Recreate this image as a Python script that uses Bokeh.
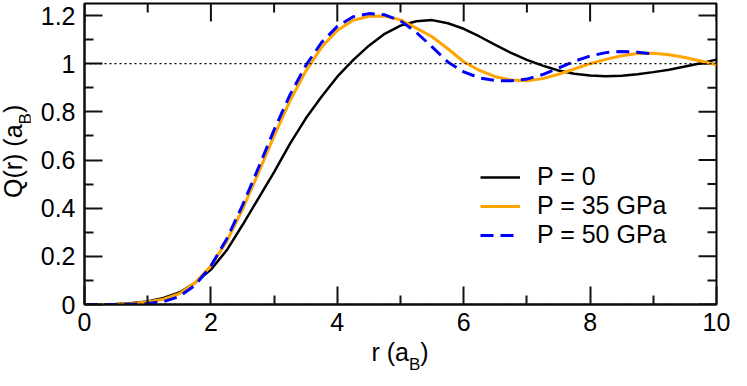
from bokeh.plotting import figure
from bokeh.layouts import row, column
from bokeh.models import Range1d, FixedTicker, Legend, LegendItem, Span, Div
from bokeh.embed import file_html
from bokeh.resources import INLINE

# ---------------- data ----------------
r = [0, 0.25, 0.5, 0.75, 1.0, 1.25, 1.5, 1.75, 2.0, 2.25, 2.5, 2.75, 3.0, 3.25,
     3.5, 3.75, 4.0, 4.25, 4.5, 4.75, 5.0, 5.25, 5.5, 5.75, 6.0, 6.25, 6.5, 6.75,
     7.0, 7.25, 7.5, 7.75, 8.0, 8.25, 8.5, 8.75, 9.0, 9.25, 9.5, 9.75, 10.0]

q_p0 = [0.0, 0.0, 0.002, 0.006, 0.013, 0.027, 0.05, 0.09, 0.145, 0.225, 0.33,
        0.44, 0.55, 0.667, 0.772, 0.863, 0.946, 1.015, 1.075, 1.124, 1.158,
        1.176, 1.181, 1.168, 1.145, 1.113, 1.078, 1.045, 1.016, 0.992, 0.972,
        0.958, 0.951, 0.948, 0.95, 0.956, 0.965, 0.975, 0.988, 1.002, 1.017]

q_p35 = [0.0, 0.0, 0.001, 0.004, 0.01, 0.022, 0.045, 0.09, 0.16, 0.262, 0.395,
         0.545, 0.70, 0.845, 0.968, 1.068, 1.138, 1.18, 1.197, 1.198, 1.182,
         1.148, 1.112, 1.062, 1.008, 0.972, 0.946, 0.932, 0.929, 0.938, 0.956,
         0.978, 1.0, 1.018, 1.033, 1.042, 1.043, 1.037, 1.026, 1.011, 0.995]

r_p50 = r[:37]
q_p50 = [0.0, 0.0, 0.0, 0.001, 0.004, 0.012, 0.033, 0.08, 0.16, 0.272, 0.412,
         0.566, 0.725, 0.87, 0.992, 1.088, 1.155, 1.195, 1.208, 1.203, 1.178,
         1.13, 1.07, 1.007, 0.966, 0.941, 0.93, 0.929, 0.936, 0.955, 0.982,
         1.01, 1.032, 1.046, 1.051, 1.048, 1.04]

series_labels = ["P = 0", "P = 35 GPa", "P = 50 GPa"]
ref_levels = [0, 1]

x_range_lims = (0, 10)
y_range_lims = (0, 1.25)
x_ticks = [0, 2, 4, 6, 8, 10]
x_minor = [1, 3, 5, 7, 9]
x_tick_labels = ["0", "2", "4", "6", "8", "10"]
y_ticks = [0, 0.2, 0.4, 0.6, 0.8, 1.0, 1.2]
y_minor = [0.1, 0.3, 0.5, 0.7, 0.9, 1.1]
y_tick_labels = ["0", "0.2", "0.4", "0.6", "0.8", "1", "1.2"]

FONT = "Liberation Sans"
FS = "25px"
TICK_COLOR = "#111111"

TOTAL_W, TOTAL_H = 731, 370
YLAB_W = 30                 # width of the strip holding the y title
PW, PH = TOTAL_W - YLAB_W, 340
BL, BR, BT, BB = 54, 15, 3, 36
XLAB_H = TOTAL_H - PH

p = figure(width=PW, height=PH, x_range=Range1d(*x_range_lims),
           y_range=Range1d(*y_range_lims),
           output_backend="svg", toolbar_location=None,
           min_border_left=BL, min_border_right=BR, min_border_top=BT,
           min_border_bottom=BB)
p.xgrid.visible = False
p.ygrid.visible = False
p.outline_line_color = "black"
p.outline_line_width = 2
p.background_fill_color = "white"
p.border_fill_color = "white"


def style_axis(ax, ticks, minor, labels, standoff):
    ax.ticker = FixedTicker(ticks=ticks, minor_ticks=minor)
    ax.major_tick_in = 18
    ax.major_tick_out = 0
    ax.minor_tick_in = 9
    ax.minor_tick_out = 0
    ax.major_tick_line_width = 2
    ax.minor_tick_line_width = 2
    ax.major_tick_line_color = TICK_COLOR
    ax.minor_tick_line_color = TICK_COLOR
    ax.axis_line_width = 2
    ax.axis_line_color = TICK_COLOR
    ax.major_label_overrides = {t: l for t, l in zip(ticks, labels)}
    ax.major_label_text_font = FONT
    ax.major_label_text_font_size = FS
    ax.major_label_text_color = "black"
    ax.major_label_standoff = standoff


style_axis(p.xaxis[0], x_ticks, x_minor, x_tick_labels, 8)
style_axis(p.yaxis[0], y_ticks, y_minor, y_tick_labels, 9)

# mirrored ticks on the top and right edges (half of each dash is clipped
# by the frame, leaving an inward tick)
y_top = y_range_lims[1]
x_right = x_range_lims[1]
p.scatter(x_ticks, [y_top] * len(x_ticks), marker="dash", angle=1.5707963,
          size=36, line_color=TICK_COLOR, line_width=2)
p.scatter(x_minor, [y_top] * len(x_minor), marker="dash", angle=1.5707963,
          size=18, line_color=TICK_COLOR, line_width=2)
p.scatter([x_right] * len(y_ticks), y_ticks, marker="dash", angle=0,
          size=36, line_color=TICK_COLOR, line_width=2)
p.scatter([x_right] * len(y_minor), y_minor, marker="dash", angle=0,
          size=18, line_color=TICK_COLOR, line_width=2)

for lvl in ref_levels:
    p.add_layout(Span(location=lvl, dimension="width", line_color="black",
                      line_width=1.3, line_dash="2 3"))

l0 = p.line(r, q_p0, line_color="black", line_width=2.5)
l35 = p.line(r, q_p35, line_color="#FFA500", line_width=3)
l50 = p.line(r_p50, q_p50, line_color="#0000FF", line_width=3, line_dash="13 7")

legend = Legend(items=[LegendItem(label=series_labels[0], renderers=[l0]),
                       LegendItem(label=series_labels[1], renderers=[l35]),
                       LegendItem(label=series_labels[2], renderers=[l50])],
                location=(396, 55), orientation="vertical",
                border_line_alpha=0, background_fill_alpha=0,
                label_text_font=FONT, label_text_font_size=FS,
                label_text_color="black",
                glyph_width=40, glyph_height=28, label_height=28,
                label_standoff=17, spacing=0, padding=0, margin=0)
p.add_layout(legend, "center")

# ---------------- axis titles (real text with a subscript) ----------------
frame_left = YLAB_W + BL
frame_right = TOTAL_W - BR
frame_top = BT
frame_bottom = PH - BB
frame_cx = (frame_left + frame_right) / 2
frame_cy = (frame_top + frame_bottom) / 2

font_css = "font-family: 'Liberation Sans', Arial, sans-serif; font-size: 25px; color: black;"
sub_html = "<span style=\"font-size: 17px; position: relative; top: 9px;\">B</span>"

x_title = Div(
    text=(f"<div style=\"width: {TOTAL_W}px; box-sizing: border-box; "
          f"padding-left: {2 * frame_cx - TOTAL_W:.0f}px; text-align: center; "
          f"line-height: 20px; padding-top: 2px; white-space: nowrap; {font_css}\">"
          f"r (a{sub_html})</div>"),
    width=TOTAL_W, height=XLAB_H, margin=0)

y_text_w = 90
y_title = Div(
    text=(f"<div style=\"position: relative; left: 1px; "
          f"top: {frame_cy + y_text_w / 2:.0f}px; transform: rotate(-90deg); "
          f"transform-origin: 0 0; line-height: 25px; white-space: nowrap; "
          f"width: {y_text_w}px; {font_css}\">Q(r) (a{sub_html})</div>"),
    width=YLAB_W, height=PH, margin=0)

root = column(row(y_title, p, spacing=0), x_title, spacing=0)

open("out.html", "w").write(file_html(root, INLINE))
